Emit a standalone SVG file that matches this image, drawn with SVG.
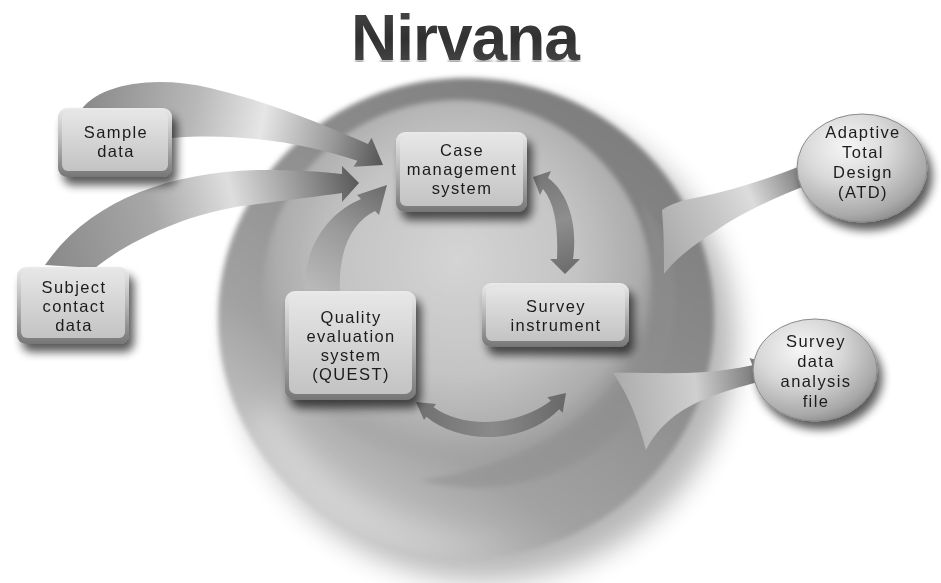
<svg xmlns="http://www.w3.org/2000/svg" xmlns:xlink="http://www.w3.org/1999/xlink" width="941" height="583" viewBox="0 0 941 583">
<style>
.t{font-family:"Liberation Sans",Arial,Helvetica,sans-serif;font-size:16.5px;letter-spacing:1.4px;fill:#1c1c1c;text-anchor:middle}
.bevel{fill:url(#bevel)}
.face{fill:url(#face)}
.ell{fill:url(#ellGrad);stroke:#8a8a8a;stroke-width:1}
</style>
<defs>
<linearGradient id="discGrad" x1="0.85" y1="0" x2="0.15" y2="1">
<stop offset="0" stop-color="#7a7a7a"/>
<stop offset="0.35" stop-color="#8a8a8a"/>
<stop offset="0.7" stop-color="#a2a2a2"/>
<stop offset="1" stop-color="#dadada"/>
</linearGradient>
<radialGradient id="innerGrad" cx="0.5" cy="0.42" r="0.55">
<stop offset="0" stop-color="#d4d4d4"/>
<stop offset="0.55" stop-color="#c4c4c4"/>
<stop offset="0.85" stop-color="#acacac"/>
<stop offset="1" stop-color="#a2a2a2" stop-opacity="0"/>
</radialGradient>
<linearGradient id="bevel" x1="0" y1="0" x2="0" y2="1">
<stop offset="0" stop-color="#eaeaea"/>
<stop offset="0.5" stop-color="#b4b4b4"/>
<stop offset="1" stop-color="#767676"/>
</linearGradient>
<linearGradient id="face" x1="0" y1="0" x2="0" y2="1">
<stop offset="0" stop-color="#e6e6e6"/>
<stop offset="0.5" stop-color="#d4d4d4"/>
<stop offset="1" stop-color="#c3c3c3"/>
</linearGradient>
<radialGradient id="ellGrad" cx="0.38" cy="0.3" r="0.75">
<stop offset="0" stop-color="#f6f6f6"/>
<stop offset="0.45" stop-color="#d8d8d8"/>
<stop offset="0.85" stop-color="#a9a9a9"/>
<stop offset="1" stop-color="#8c8c8c"/>
</radialGradient>
<linearGradient id="titleGrad" x1="0" y1="0" x2="0" y2="1">
<stop offset="0" stop-color="#4a4a4a"/>
<stop offset="0.5" stop-color="#303030"/>
<stop offset="1" stop-color="#4e4e4e"/>
</linearGradient>
<linearGradient id="reflFade" x1="0" y1="60" x2="0" y2="90" gradientUnits="userSpaceOnUse">
<stop offset="0" stop-color="#fff" stop-opacity="0.6"/>
<stop offset="1" stop-color="#fff" stop-opacity="0"/>
</linearGradient>
<mask id="reflMask" maskUnits="userSpaceOnUse" x="300" y="58" width="340" height="40">
<rect x="300" y="58" width="340" height="40" fill="url(#reflFade)"/>
</mask>
<linearGradient id="a1Grad" gradientUnits="userSpaceOnUse" x1="90" y1="100" x2="383" y2="160">
<stop offset="0" stop-color="#8c8c8c"/>
<stop offset="0.35" stop-color="#b8b8b8"/>
<stop offset="0.58" stop-color="#e6e6e6"/>
<stop offset="0.82" stop-color="#9a9a9a"/>
<stop offset="1" stop-color="#555"/>
</linearGradient>
<linearGradient id="a2Grad" gradientUnits="userSpaceOnUse" x1="50" y1="260" x2="360" y2="182">
<stop offset="0" stop-color="#8a8a8a"/>
<stop offset="0.35" stop-color="#a8a8a8"/>
<stop offset="0.6" stop-color="#dedede"/>
<stop offset="0.85" stop-color="#8c8c8c"/>
<stop offset="1" stop-color="#575757"/>
</linearGradient>
<linearGradient id="a3Grad" gradientUnits="userSpaceOnUse" x1="320" y1="292" x2="387" y2="185">
<stop offset="0" stop-color="#b8b8b8"/>
<stop offset="0.5" stop-color="#9a9a9a"/>
<stop offset="1" stop-color="#6a6a6a"/>
</linearGradient>
<linearGradient id="a4Grad" gradientUnits="userSpaceOnUse" x1="533" y1="175" x2="565" y2="274">
<stop offset="0" stop-color="#767676"/>
<stop offset="0.5" stop-color="#8e8e8e"/>
<stop offset="1" stop-color="#6c6c6c"/>
</linearGradient>
<linearGradient id="a5Grad" gradientUnits="userSpaceOnUse" x1="416" y1="400" x2="566" y2="395">
<stop offset="0" stop-color="#707070"/>
<stop offset="0.5" stop-color="#8a8a8a"/>
<stop offset="1" stop-color="#686868"/>
</linearGradient>
<linearGradient id="a6Grad" gradientUnits="userSpaceOnUse" x1="660" y1="240" x2="826" y2="165">
<stop offset="0" stop-color="#ababab"/>
<stop offset="0.35" stop-color="#c8c8c8"/>
<stop offset="0.55" stop-color="#dcdcdc"/>
<stop offset="0.82" stop-color="#8a8a8a"/>
<stop offset="1" stop-color="#5a5a5a"/>
</linearGradient>
<linearGradient id="a7Grad" gradientUnits="userSpaceOnUse" x1="613" y1="380" x2="776" y2="366">
<stop offset="0" stop-color="#ababab"/>
<stop offset="0.5" stop-color="#cfcfcf"/>
<stop offset="0.8" stop-color="#8a8a8a"/>
<stop offset="1" stop-color="#5e5e5e"/>
</linearGradient>
<filter id="sh" x="-30%" y="-30%" width="170%" height="190%">
<feGaussianBlur in="SourceAlpha" stdDeviation="5"/>
<feOffset dx="5" dy="8" result="o"/>
<feComponentTransfer in="o" result="s"><feFuncA type="linear" slope="0.65"/></feComponentTransfer>
<feMerge><feMergeNode in="s"/><feMergeNode in="SourceGraphic"/></feMerge>
</filter>
<filter id="bigBlur" x="-20%" y="-20%" width="140%" height="140%">
<feGaussianBlur stdDeviation="14"/>
</filter>
<filter id="softBlur" x="-10%" y="-10%" width="120%" height="120%">
<feGaussianBlur stdDeviation="2.5"/>
</filter>
<filter id="reflBlur" x="-10%" y="-50%" width="120%" height="200%">
<feGaussianBlur stdDeviation="1.2 3"/>
</filter>
</defs>

<rect width="941" height="583" fill="#fff"/>

<g id="title">
<text id="titleText" x="465" y="60" font-family="Liberation Sans, Arial, sans-serif" font-weight="bold" font-size="64" letter-spacing="-1" text-anchor="middle" fill="url(#titleGrad)">Nirvana</text>
<use xlink:href="#titleText" transform="translate(0,120) scale(1,-1)" mask="url(#reflMask)" filter="url(#reflBlur)"/>
</g>

<g id="disc">
<ellipse cx="485" cy="340" rx="250" ry="240" fill="#000" opacity="0.28" filter="url(#bigBlur)"/>
<ellipse cx="466" cy="318" rx="248" ry="240" fill="url(#discGrad)" filter="url(#softBlur)"/>
<ellipse cx="458" cy="290" rx="195" ry="190" fill="url(#innerGrad)" filter="url(#softBlur)"/>
<path d="M 640 200 C 690 260, 690 360, 620 430 C 570 480, 490 500, 420 480 C 500 470, 590 430, 630 360 C 660 300, 655 250, 640 200 Z" fill="#8e8e8e" opacity="0.5" filter="url(#softBlur)"/>
<path d="M 250 420 C 300 520, 420 570, 520 540 C 420 545, 320 500, 270 400 Z" fill="#fff" opacity="0.35" filter="url(#bigBlur)"/>
</g>

<g id="connectors">
<path id="c-sample-case" d="M 80 112 C 95 86, 150 74, 210 88 C 270 102, 322 124, 368 144 L 371.6 137.8 L 383 165 L 353.6 166.8 L 357.3 160.8 C 312 146, 250 132, 172 138 L 150 140 C 120 138, 95 130, 80 112 Z" fill="url(#a1Grad)"/>
<path id="c-subject-case" d="M 45 265 C 90 200, 170 172, 260 170 C 300 170, 325 172, 342 174 L 342 166 L 359 183 L 342 202 L 342 193 C 320 196, 290 200, 250 205 C 190 212, 130 240, 95 268 Z" fill="url(#a2Grad)"/>
<path id="c-quest-case" d="M 305 292 C 303 245, 330 212, 361 199 L 357 195 L 387 185 L 379 215 L 375 211 C 352 222, 338 250, 340 292 Z" fill="url(#a3Grad)"/>
<path id="c-case-survey" d="M 533 177 L 551 171 L 548 178 C 568 192, 578 225, 573 259 L 580 259 L 565 274 L 550 259 L 557 259 C 558 230, 556 205, 543 189 L 540 195 Z" fill="url(#a4Grad)"/>
<path id="c-quest-survey" d="M 416 402 L 436 404 L 433.6 407.2 C 465 430, 520 425, 550.8 400.8 L 547.3 397.3 L 566 393 L 562.7 412.7 L 559.2 409.2 C 525 445, 460 445, 426.4 416.8 L 424 420 Z" fill="url(#a5Grad)"/>
<path id="c-nirvana-atd" d="M 662 210 C 672 203, 684 200, 695 198 C 735 190, 770 178, 801.7 165.5 L 798.3 158.3 L 826 165 L 813.7 190.7 L 810.3 183.5 C 775 198, 742 212, 714 232 C 694 245, 676 258, 664 274 C 664 255, 664 232, 662 210 Z" fill="url(#a6Grad)"/>
<path id="c-nirvana-sdaf" d="M 613 373 C 650 372, 700 377, 752.4 365.3 L 749.5 357.9 L 776 366 L 761.5 389.5 L 758.7 382.1 C 720 392, 692 402, 672 418 C 660 428, 652 438, 646 450 C 640 428, 632 400, 613 373 Z" fill="url(#a7Grad)"/>
</g>

<g id="sample-data" filter="url(#sh)">
<rect x="58" y="108" width="114" height="69" rx="9" class="bevel"/>
<rect x="62" y="112" width="106" height="59" rx="6" class="face"/>
<text class="t" x="116" y="138">Sample</text>
<text class="t" x="116" y="157">data</text>
</g>

<g id="subject-contact-data" filter="url(#sh)">
<rect x="17" y="267" width="112" height="77" rx="9" class="bevel"/>
<rect x="21" y="271" width="104" height="67" rx="6" class="face"/>
<text class="t" x="74" y="293">Subject</text>
<text class="t" x="74" y="312">contact</text>
<text class="t" x="74" y="331">data</text>
</g>

<g id="case-management-system" filter="url(#sh)">
<rect x="396" y="132" width="131" height="80" rx="9" class="bevel"/>
<rect x="400" y="136" width="123" height="70" rx="6" class="face"/>
<text class="t" x="462" y="156">Case</text>
<text class="t" x="462" y="175">management</text>
<text class="t" x="462" y="194">system</text>
</g>

<g id="quest" filter="url(#sh)">
<rect x="285" y="291" width="131" height="109" rx="10" class="bevel"/>
<rect x="289" y="295" width="123" height="99" rx="7" class="face"/>
<text class="t" x="351" y="323">Quality</text>
<text class="t" x="351" y="342">evaluation</text>
<text class="t" x="351" y="361">system</text>
<text class="t" x="351" y="380">(QUEST)</text>
</g>

<g id="survey-instrument" filter="url(#sh)">
<rect x="482" y="283" width="147" height="64" rx="9" class="bevel"/>
<rect x="486" y="287" width="139" height="54" rx="6" class="face"/>
<text class="t" x="556" y="312">Survey</text>
<text class="t" x="556" y="331">instrument</text>
</g>

<g id="atd" filter="url(#sh)">
<ellipse cx="862" cy="168" rx="65" ry="54" class="ell"/>
<text class="t" x="863" y="138">Adaptive</text>
<text class="t" x="863" y="158">Total</text>
<text class="t" x="863" y="178">Design</text>
<text class="t" x="863" y="198">(ATD)</text>
</g>

<g id="survey-data-analysis-file" filter="url(#sh)">
<ellipse cx="815" cy="370" rx="62" ry="51" class="ell"/>
<text class="t" x="816" y="347">Survey</text>
<text class="t" x="816" y="367">data</text>
<text class="t" x="816" y="387">analysis</text>
<text class="t" x="816" y="407">file</text>
</g>
</svg>
